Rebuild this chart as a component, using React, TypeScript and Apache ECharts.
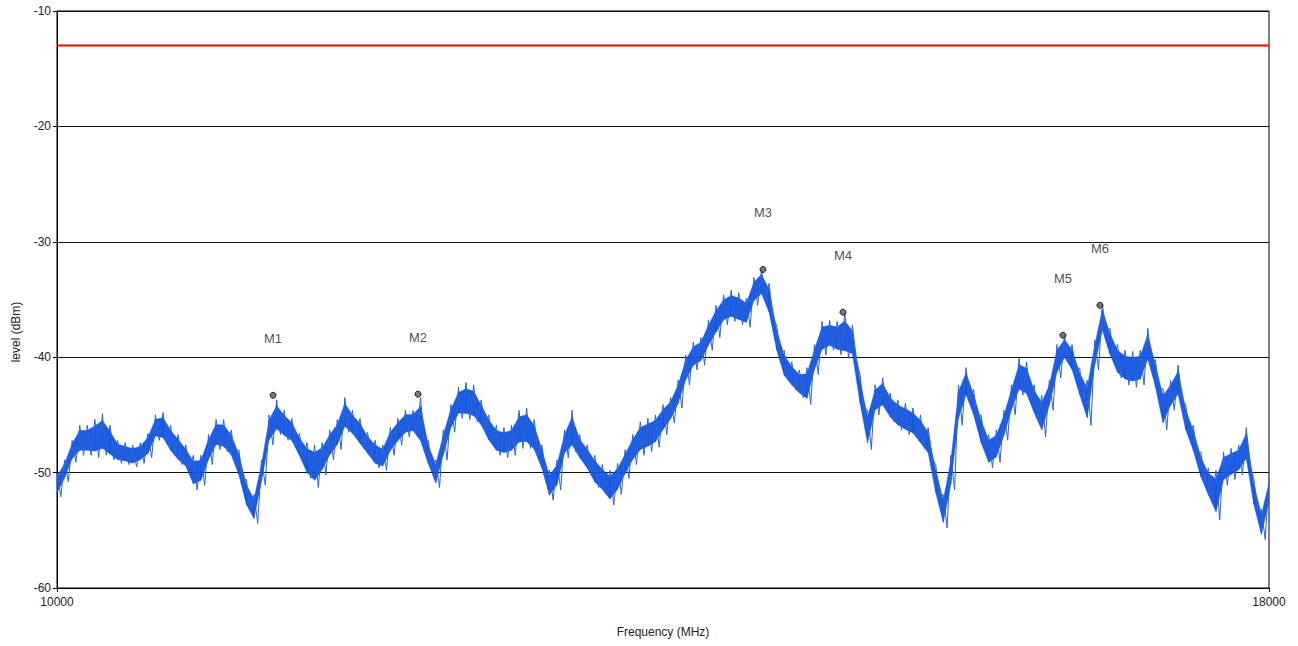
import React, { useEffect, useRef } from "react";
import * as echarts from "echarts";

const FREQ_START = 10000;
const FREQ_STEP = 50;

// Upper and lower envelope of the measured trace (dBm), every 50 MHz from 10000 MHz
const traceUpper = [
  -50.0, -48.9, -47.2, -45.9, -45.9, -45.4, -44.9, -45.9, -47.2, -47.4,
  -47.6, -47.4, -46.6, -45.0, -44.8, -45.9, -46.7, -47.6, -48.5, -48.5,
  -46.7, -45.4, -45.4, -46.3, -48.0, -50.6, -51.9, -48.9, -45.0, -43.7,
  -44.6, -45.3, -46.6, -47.4, -47.6, -47.4, -46.3, -45.4, -43.5, -44.6,
  -45.3, -46.5, -47.2, -47.6, -46.1, -45.3, -44.6, -44.6, -43.5, -47.2,
  -48.9, -46.3, -44.1, -42.6, -42.2, -42.4, -43.7, -45.0, -45.9, -46.1,
  -45.9, -44.6, -44.4, -45.4, -47.6, -49.8, -48.9, -46.3, -44.6, -46.7,
  -47.6, -48.5, -49.3, -49.8, -49.2, -48.0, -46.7, -45.6, -45.3, -45.0,
  -44.1, -43.5, -42.0, -39.8, -38.7, -38.3, -36.8, -35.5, -34.6, -34.2,
  -34.4, -34.9, -33.1, -32.4, -33.6, -37.2, -39.4, -40.4, -41.1, -40.9,
  -38.9, -36.9, -36.8, -36.9, -36.2, -37.2, -41.5, -44.6, -42.4, -41.8,
  -43.1, -43.7, -44.0, -44.4, -45.0, -46.1, -49.3, -51.9, -48.5, -42.4,
  -40.9, -42.8, -45.0, -46.7, -46.3, -44.6, -42.4, -40.1, -40.4, -42.4,
  -43.3, -42.0, -38.9, -38.1, -38.9, -40.9, -42.0, -38.5, -35.4, -37.5,
  -38.9, -39.4, -39.5, -39.4, -37.5, -40.2, -42.7, -42.0, -40.7, -44.1,
  -45.9, -48.2, -49.6, -49.8, -48.2, -47.9, -47.6, -46.1, -50.6, -53.2,
  -50.5,
];

const traceLower = [
  -52.1, -50.8, -49.1, -48.5, -48.5, -48.7, -48.5, -48.9, -49.2, -49.3,
  -49.5, -49.2, -48.7, -47.2, -47.4, -48.5, -49.3, -49.8, -51.5, -51.1,
  -49.3, -48.0, -48.2, -48.9, -50.6, -53.2, -54.4, -51.1, -47.6, -46.7,
  -47.2, -47.6, -48.9, -50.5, -51.3, -50.2, -48.9, -48.0, -46.5, -47.0,
  -47.9, -48.7, -49.6, -49.8, -48.5, -47.6, -46.9, -46.7, -48.0, -49.6,
  -51.3, -48.9, -46.5, -45.3, -45.4, -45.6, -46.3, -47.6, -48.5, -48.7,
  -48.5, -47.9, -47.9, -48.5, -50.0, -52.4, -51.5, -48.7, -48.2, -49.1,
  -50.0, -51.3, -51.9, -52.8, -51.9, -50.5, -49.3, -48.5, -48.2, -47.8,
  -46.7, -45.7, -44.4, -42.4, -41.1, -40.7, -39.4, -38.3, -37.2, -36.9,
  -37.2, -37.4, -35.5, -34.9, -36.6, -39.8, -42.0, -42.8, -43.5, -44.1,
  -41.5, -39.8, -39.4, -39.8, -40.1, -40.2, -44.4, -48.0, -45.0, -44.6,
  -45.6, -46.3, -46.7, -47.0, -47.9, -48.7, -52.2, -54.8, -51.5, -45.9,
  -43.7, -45.4, -47.9, -49.6, -49.1, -47.2, -45.0, -43.3, -43.7, -45.3,
  -46.9, -44.6, -41.8, -40.4, -41.5, -43.7, -45.9, -41.1, -38.1, -40.2,
  -41.8, -42.4, -42.6, -42.4, -40.7, -43.0, -46.3, -44.6, -43.7, -46.7,
  -48.5, -50.8, -52.4, -54.1, -51.1, -50.6, -50.2, -49.3, -53.2, -55.8,
  -52.8,
];

const markerNames = ["M1", "M2", "M3", "M4", "M5", "M6"];
const markerFreqs = [11426, 12383, 14660, 15188, 16640, 16884];
const markerLevels = [-43.3, -43.2, -32.4, -36.1, -38.1, -35.5];

const limitLevel = -13;
const yTicks = [-60, -50, -40, -30, -20, -10];
const xRange = [10000, 18000];

const FONT = "'Liberation Sans', Arial, sans-serif";
const TRACE = "#0a4fdc";
const CORE_SHRINK = 0.17; // dense core drawn inside the envelope

export default function App() {
  const ref = useRef<HTMLDivElement>(null);

  useEffect(() => {
    if (!ref.current) return;
    const chart = echarts.init(ref.current, null, { renderer: "svg" });

    const traceData: number[][] = [];
    const bandData: number[][] = [];
    for (let i = 0; i < traceUpper.length; i++) {
      const f = FREQ_START + i * FREQ_STEP;
      traceData.push([f, traceUpper[i]]);
      if (f + FREQ_STEP / 2 <= xRange[1]) traceData.push([f + FREQ_STEP / 2, traceLower[i]]);
      if (i + 1 < traceUpper.length) {
        bandData.push([
          f,
          traceUpper[i],
          traceLower[i],
          f + FREQ_STEP,
          traceUpper[i + 1],
          traceLower[i + 1],
        ]);
      }
    }

    const markerData = markerNames.map((n, i) => ({
      name: n,
      value: [markerFreqs[i], markerLevels[i]],
    }));

    chart.setOption({
      animation: false,
      backgroundColor: "#ffffff",
      grid: {
        left: 57,
        right: 29,
        top: 11,
        bottom: 58,
        show: true,
        borderColor: "#000",
        borderWidth: 1,
      },
      xAxis: {
        type: "value",
        min: xRange[0],
        max: xRange[1],
        interval: xRange[1] - xRange[0],
        name: "Frequency (MHz)",
        nameLocation: "middle",
        nameGap: 38,
        nameTextStyle: { fontFamily: FONT, fontSize: 12, color: "#222" },
        axisLine: { show: true, lineStyle: { color: "#000", width: 1 } },
        axisTick: { show: true, length: 4, lineStyle: { color: "#000" } },
        axisLabel: {
          fontFamily: FONT,
          fontSize: 12,
          color: "#222",
          margin: 8,
          formatter: (v: number) => String(v),
        },
        splitLine: { show: false },
      },
      yAxis: {
        type: "value",
        min: yTicks[0],
        max: yTicks[yTicks.length - 1],
        interval: 10,
        axisLine: { show: true, onZero: false, lineStyle: { color: "#000", width: 1 } },
        axisTick: { show: true, length: 4, lineStyle: { color: "#000" } },
        axisLabel: { fontFamily: FONT, fontSize: 12, color: "#222", margin: 6 },
        splitLine: { show: true, lineStyle: { color: "#111", width: 1 } },
      },
      graphic: [
        {
          type: "text",
          x: 16,
          y: 332,
          rotation: Math.PI / 2,
          style: {
            text: "level (dBm)",
            fontFamily: FONT,
            fontSize: 12,
            fill: "#222",
            align: "center",
            verticalAlign: "middle",
          },
        },
      ],
      series: [
        {
          type: "line",
          data: [
            [xRange[0], limitLevel],
            [xRange[1], limitLevel],
          ],
          showSymbol: false,
          symbol: "none",
          lineStyle: { color: "#ff0000", width: 2 },
          z: 3,
        },
        {
          type: "custom",
          data: bandData,
          silent: true,
          clip: true,
          encode: { x: [0, 3], y: [1, 2, 4, 5] },
          renderItem: (params: any, api: any) => {
            const f0 = api.value(0);
            const f1 = api.value(3);
            const u0 = api.value(1);
            const l0 = api.value(2);
            const u1 = api.value(4);
            const l1 = api.value(5);
            const s0 = (u0 - l0) * CORE_SHRINK;
            const s1 = (u1 - l1) * CORE_SHRINK;
            const p1 = api.coord([f0, u0 - s0]);
            const p2 = api.coord([f1, u1 - s1]);
            const p3 = api.coord([f1, l1 + s1]);
            const p4 = api.coord([f0, l0 + s0]);
            return {
              type: "polygon",
              shape: { points: [p1, p2, p3, p4] },
              style: { fill: TRACE, opacity: 0.92, stroke: TRACE, lineWidth: 0.5 },
            };
          },
          z: 2,
        },
        {
          type: "line",
          data: traceData,
          showSymbol: false,
          symbol: "none",
          lineStyle: { color: "#2a62e2", width: 1 },
          z: 4,
        },
        {
          type: "scatter",
          data: markerData,
          symbol: "circle",
          symbolSize: 6,
          itemStyle: { color: "#555", borderColor: "#000", borderWidth: 1 },
          label: {
            show: true,
            position: "top",
            distance: 47,
            formatter: (p: any) => p.name,
            fontFamily: FONT,
            fontSize: 13,
            color: "#222",
          },
          z: 6,
        },
      ],
    });

    return () => chart.dispose();
  }, []);

  return (
    <div
      ref={ref}
      style={{ position: "fixed", left: 0, top: 0, width: 1298, height: 646 }}
    />
  );
}
